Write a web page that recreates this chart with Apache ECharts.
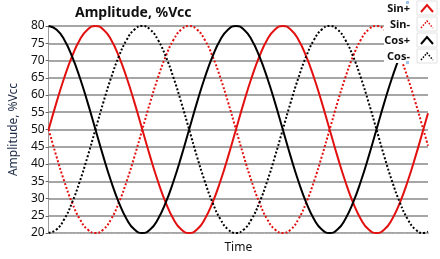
<!DOCTYPE html>
<html><head><meta charset="utf-8">
<script src="https://cdn.jsdelivr.net/npm/echarts@6/dist/echarts.min.js"></script>
<style>html,body{margin:0;padding:0;background:#fff}#c{width:440px;height:259px}</style>
</head><body><div id="c"></div>
<script>
// time in steps of 1/24 period
var time = [0,1,2,3,4,5,6,7,8,9,10,11,12,13,14,15,16,17,18,19,20,21,22,23,24,25,26,27,28,29,30,31,32,33,34,35,36,37,38,39,40,41,42,43,44,45,46,47,48,48.6];
var sinPlus  = [50,57.8,65,71.2,76,79,80,79,76,71.2,65,57.8,50,42.2,35,28.8,24,21,20,21,24,28.8,35,42.2,50,57.8,65,71.2,76,79,80,79,76,71.2,65,57.8,50,42.2,35,28.8,24,21,20,21,24,28.8,35,42.2,50,54.7];
var sinMinus = [50,42.2,35,28.8,24,21,20,21,24,28.8,35,42.2,50,57.8,65,71.2,76,79,80,79,76,71.2,65,57.8,50,42.2,35,28.8,24,21,20,21,24,28.8,35,42.2,50,57.8,65,71.2,76,79,80,79,76,71.2,65,57.8,50,45.3];
var cosPlus  = [80,79,76,71.2,65,57.8,50,42.2,35,28.8,24,21,20,21,24,28.8,35,42.2,50,57.8,65,71.2,76,79,80,79,76,71.2,65,57.8,50,42.2,35,28.8,24,21,20,21,24,28.8,35,42.2,50,57.8,65,71.2,76,79,80,79.6];
var cosMinus = [20,21,24,28.8,35,42.2,50,57.8,65,71.2,76,79,80,79,76,71.2,65,57.8,50,42.2,35,28.8,24,21,20,21,24,28.8,35,42.2,50,57.8,65,71.2,76,79,80,79,76,71.2,65,57.8,50,42.2,35,28.8,24,21,20,20.4];
var seriesNames = ['Sin+','Sin-','Cos+','Cos-'];
var yTicks = {min:20, max:80, interval:5};

function pairs(arr){ return arr.map(function(v,i){ return [time[i], v]; }); }
var RED = '#e31010', BLK = '#000000';
var styles = [
  {color:RED, type:'solid'},
  {color:RED, type:[2,2]},
  {color:BLK, type:'solid'},
  {color:BLK, type:[2,2]}
];
var datas = [sinPlus, sinMinus, cosPlus, cosMinus];

var series = datas.map(function(d,i){
  return {
    name: seriesNames[i], type:'line', data: pairs(d), smooth:0.5, showSymbol:false,
    lineStyle:{color:styles[i].color, width:2, type:styles[i].type},
    z: 2
  };
});

// legend drawn as graphics
var legendG = [{
  type:'rect', shape:{x:384,y:0,width:56,height:63}, style:{fill:'#ffffff'}, z:100
}];
seriesNames.forEach(function(n,i){
  var y0 = 1 + i*16;
  legendG.push({type:'text', style:{text:n, x:410, y:y0+8, textAlign:'right', textVerticalAlign:'middle', font:'bold 11px "Noto Sans"', fill:'#111'}, z:101});
  legendG.push({type:'rect', shape:{x:417,y:y0,width:20,height:14}, style:{fill:'#fff', stroke:'#e2e2e2', lineWidth:1}, z:101});
  legendG.push({type:'polyline', shape:{points:[[421,y0+11],[427,y0+4],[433,y0+11]]},
    style:{stroke:styles[i].color, lineWidth: styles[i].type==='solid'?2:1.5, lineDash: styles[i].type==='solid'?null:[1.5,1.5], fill:null}, z:102});
});
legendG.push({type:'rect', shape:{x:406,y:1,width:3,height:3}, style:{fill:'#9cc3ee'}, z:103});
legendG.push({type:'rect', shape:{x:406,y:61,width:3,height:3}, style:{fill:'#9cc3ee'}, z:103});

var chart = echarts.init(document.getElementById('c'));
chart.setOption({
  backgroundColor:'#ffffff',
  animation:false,
  title:{text:'Amplitude, %Vcc', left:70, top:1, textStyle:{fontFamily:'Noto Sans', fontWeight:'bold', fontSize:14, color:'#111'}},
  grid:{left:44, right:12, top:26, bottom:18},
  xAxis:{type:'value', min:0, max:48.6, interval:1.2,
    name:'Time', nameLocation:'middle', nameGap:9,
    nameTextStyle:{fontFamily:'Noto Sans', fontSize:12, color:'#111'},
    axisLabel:{show:false}, splitLine:{show:false},
    axisLine:{lineStyle:{color:'#b0b0b0', type:[1,2], width:1}},
    axisTick:{show:true, length:1, inside:false, lineStyle:{color:'#c0c0c0'}}
  },
  yAxis:{type:'value', min:yTicks.min, max:yTicks.max, interval:yTicks.interval,
    name:'Amplitude, %Vcc', nameLocation:'middle', nameGap:25,
    nameTextStyle:{fontFamily:'Noto Sans', fontSize:12, color:'#1c2a44'},
    axisLabel:{fontFamily:'Noto Sans', fontSize:12, color:'#111', margin:4},
    axisLine:{show:true, lineStyle:{color:'#9a9a9a', width:1}},
    axisTick:{show:true, length:3, lineStyle:{color:'#666'}},
    splitLine:{lineStyle:{color:'#a6a6a6', width:2}}
  },
  series: series,
  graphic: legendG
});
</script></body></html>
